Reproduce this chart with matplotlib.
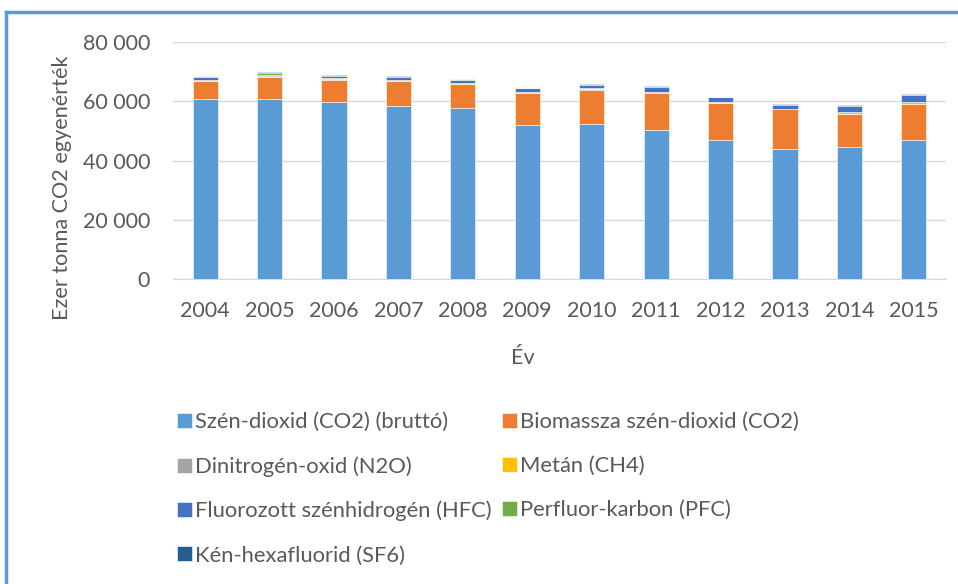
import numpy as np
import matplotlib.pyplot as plt
from matplotlib.lines import Line2D
from matplotlib.ticker import FuncFormatter

plt.rcParams['font.family'] = ['Lato', 'DejaVu Sans']

# Évek és kibocsátások (ezer tonna CO2 egyenérték)
years = ['2004', '2005', '2006', '2007', '2008', '2009',
         '2010', '2011', '2012', '2013', '2014', '2015']
co2 = [60.7, 60.7, 59.7, 58.5, 57.7, 52.0, 52.4, 50.4, 47.0, 43.9, 44.4, 47.0]
bio = [6.15, 7.4, 7.65, 8.25, 8.05, 10.95, 11.55, 12.55, 12.35, 13.35, 11.35, 12.15]
n2o = [0.05, 0.05, 0.05, 0.05, 0.05, 0.05, 0.05, 0.05, 0.05, 0.05, 0.05, 0.05]
ch4 = [0.3, 0.3, 0.4, 0.4, 0.5, 0.2, 0.6, 0.2, 0.5, 0.2, 0.5, 0.6]
hfc = [1.1, 0.5, 0.8, 1.0, 1.0, 1.2, 1.0, 1.7, 1.4, 1.2, 2.0, 2.3]
pfc = [0.1, 0.5, 0.1, 0.1, 0.1, 0.0, 0.05, 0.0, 0.0, 0.0, 0.0, 0.0]
sf6 = [0.2, 0.35, 0.2, 0.2, 0.2, 0.2, 0.25, 0.3, 0.3, 0.3, 0.3, 0.3]

series = [
    ('Szén-dioxid (CO2) (bruttó)', co2, '#5B9BD5'),
    ('Biomassza szén-dioxid (CO2)', bio, '#ED7D31'),
    ('Dinitrogén-oxid (N2O)', n2o, '#A5A5A5'),
    ('Metán (CH4)', ch4, '#FFC000'),
    ('Fluorozott szénhidrogén (HFC)', hfc, '#4472C4'),
    ('Perfluor-karbon (PFC)', pfc, '#70AD47'),
    ('Kén-hexafluorid (SF6)', sf6, '#255E91'),
]

fig = plt.figure(figsize=(9.58, 5.84), dpi=100)
ax = fig.add_axes([0.1806, 0.5223, 0.8069, 0.4057])

x = np.arange(len(years))
bottom = np.zeros(len(years))
handles = []
for name, vals, col in series:
    v = np.array(vals) * 1000
    b = ax.bar(x, v, 0.39, bottom=bottom, color=col, edgecolor='white',
               linewidth=0.4, label=name, zorder=3)
    handles.append(b)
    bottom += v

ax.set_xlim(-0.5, len(years) - 0.5)
ax.set_ylim(0, 80000)
ax.set_yticks(np.arange(0, 80001, 20000))
ax.yaxis.set_major_formatter(FuncFormatter(lambda v, p: f'{int(v):,}'.replace(',', ' ')))
ax.set_xticks(x)
ax.set_xticklabels(years)
ax.grid(axis='y', color='#D9D9D9', linewidth=1, zorder=0)
for s in ['top', 'right', 'left']:
    ax.spines[s].set_visible(False)
ax.spines['bottom'].set_color('#D9D9D9')
ax.tick_params(axis='both', length=0, labelsize=15.5, colors='#595959')
ax.tick_params(axis='y', pad=16.5)
ax.tick_params(axis='x', pad=16)

ax.set_ylabel('Ezer tonna CO2 egyenérték', fontsize=15.6, color='#595959')
ax.yaxis.set_label_coords(-0.131, 0.385)
ax.set_xlabel('Év', fontsize=15.5, color='#595959')
ax.xaxis.set_label_coords(0.453, -0.29)

# legenda: két oszlop, sorfolytonos sorrend
order = [0, 2, 4, 6, 1, 3, 5]
fig.legend([handles[i] for i in order], [series[i][0] for i in order],
           loc='upper left', bbox_to_anchor=(0.1848, 0.2945), ncol=2,
           frameon=False, fontsize=15.8, labelcolor='#595959',
           borderpad=0, borderaxespad=0,
           handlelength=0.68, handleheight=0.68, handletextpad=0.15,
           columnspacing=0.45, labelspacing=1.1)

# keret
fig.add_artist(Line2D([0.006, 1.0], [0.979, 0.979], color='#5B9BD5', linewidth=2.5))
fig.add_artist(Line2D([0.006, 0.006], [0.0, 0.979], color='#5B9BD5', linewidth=2.5))

fig.savefig('out.png', dpi=100)
